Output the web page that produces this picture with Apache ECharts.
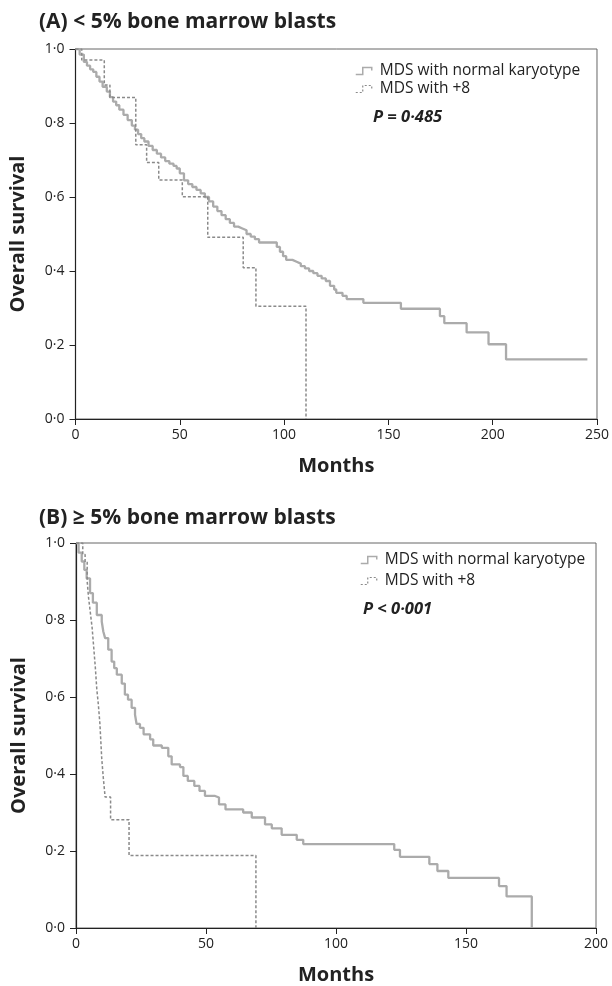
<!DOCTYPE html>
<html>
<head>
<meta charset="utf-8">
<script src="https://cdn.jsdelivr.net/npm/echarts@6/dist/echarts.min.js"></script>
<style>
html,body{margin:0;padding:0;background:#fff;}
#c{width:612px;height:986px;}
</style>
</head>
<body>
<div id="c"></div>
<script>
// ---- Data (Kaplan-Meier steps: [months, survival]) ----
const seriesNames = ['MDS with normal karyotype', 'MDS with +8'];

const panelA_normal = [
  [0,1.0],[2,0.985],[4,0.965],[5.5,0.955],[7,0.945],[8.5,0.938],[10,0.925],[11.5,0.912],
  [13,0.898],[15,0.885],[16.5,0.87],[18,0.858],[19.5,0.848],[21,0.836],[23,0.822],[25,0.808],
  [27,0.793],[28.5,0.782],[30,0.77],[31.5,0.759],[33,0.75],[35,0.738],[37,0.727],[39,0.717],
  [41,0.707],[43,0.697],[45,0.69],[47,0.684],[48.5,0.677],[50,0.664],[52,0.645],[54,0.635],
  [56,0.627],[58,0.619],[60,0.61],[62,0.6],[64,0.588],[66,0.574],[68,0.562],[70,0.551],
  [72,0.54],[74,0.53],[76,0.52],[78,0.515],[80,0.51],[82,0.5],[84,0.493],[86,0.486],
  [88,0.477],[96.5,0.465],[98,0.452],[99.5,0.44],[101,0.43],[104,0.425],[106,0.42],[108,0.413],
  [110,0.407],[112,0.4],[114,0.394],[116,0.387],[118,0.38],[120,0.373],[122,0.36],[124,0.35],
  [125,0.341],[128,0.333],[130,0.324],[138,0.314],[156,0.298],[174.7,0.278],[176.8,0.259],
  [187.5,0.234],[198,0.202],[206.4,0.161],[245.4,0.161]
];
const panelA_tri8 = [
  [0,1.0],[3,0.97],[13.8,0.903],[16.5,0.869],[28.9,0.741],[34.1,0.693],[39.9,0.646],
  [51.2,0.601],[63.4,0.491],[80.4,0.409],[86.5,0.305],[110.5,0.0]
];
const panelB_normal = [
  [0,1.0],[1,0.975],[2.2,0.952],[3.2,0.93],[4.1,0.908],[5.4,0.87],[6.5,0.845],[8,0.813],
  [9.9,0.796],[10.5,0.77],[11.2,0.753],[12.4,0.723],[13.7,0.692],[14.7,0.675],[15.7,0.658],
  [17.6,0.635],[18.8,0.606],[20,0.593],[21.4,0.572],[22.7,0.554],[23.3,0.53],[24.6,0.52],
  [26,0.503],[28.5,0.49],[29.7,0.474],[33,0.468],[35.5,0.446],[36.8,0.425],[40,0.418],
  [41.3,0.395],[43,0.382],[45.5,0.369],[47.5,0.356],[49.6,0.343],[53.5,0.339],[55,0.321],
  [57.5,0.308],[64.3,0.300],[67.6,0.287],[72.7,0.269],[75.3,0.259],[79.1,0.242],[84.9,0.229],
  [87.4,0.218],[122.4,0.203],[124.6,0.185],[135.9,0.166],[139,0.148],[143.2,0.130],
  [162.7,0.109],[165.6,0.082],[175.3,0.0]
];
const panelB_tri8 = [
  [0,1.0],[2.6,0.97],[3.5,0.95],[4.3,0.9],[4.8,0.86],[5.5,0.82],[6.2,0.78],[6.8,0.73],
  [7.4,0.68],[8,0.62],[8.6,0.58],[9.2,0.53],[9.9,0.44],[10.5,0.39],[11.2,0.34],[13.3,0.281],
  [20.4,0.188],[69.2,0.0]
];
const titles = ['(A) < 5% bone marrow blasts', '(B) \u2265 5% bone marrow blasts'];
const pValues = ['P = 0\u00b7485', 'P < 0\u00b7001'];
const xMaxA = 250, xMaxB = 200;

// ---- Chart ----
const FONT = 'Open Sans, Noto Sans, sans-serif';
const chart = echarts.init(document.getElementById('c'), null, {renderer:'canvas'});
const solidColor = '#ababab';
const dashColor = '#8a8a8a';
const fmtY = v => v.toFixed(1).replace('.', '\u00b7');

function xAxis(gi, max){
  return {
    type:'value', gridIndex:gi, min:0, max:max, interval:50,
    name:'Months', nameLocation:'middle', nameGap:37,
    nameTextStyle:{fontFamily:FONT, fontWeight:'bold', fontSize:20, color:'#222'},
    axisLine:{show:true, lineStyle:{color:'#222', width:1.2}},
    axisTick:{show:true, length:6, lineStyle:{color:'#222'}},
    axisLabel:{fontFamily:FONT, fontSize:14, color:'#222', margin:9},
    splitLine:{show:false}
  };
}
function yAxis(gi){
  return {
    type:'value', gridIndex:gi, min:0, max:1, interval:0.2,
    name:'Overall survival', nameLocation:'middle', nameGap:47,
    nameTextStyle:{fontFamily:FONT, fontWeight:'bold', fontSize:20, color:'#222'},
    axisLine:{show:true, lineStyle:{color:'#222', width:1.2}},
    axisTick:{show:true, length:6, lineStyle:{color:'#222'}},
    axisLabel:{fontFamily:FONT, fontSize:14, color:'#222', margin:11, formatter:fmtY},
    splitLine:{show:false}
  };
}
function km(name, data, gi, dashed){
  return {
    type:'line', name:name, xAxisIndex:gi, yAxisIndex:gi, data:data, step:'end',
    showSymbol:false, symbol:'none', animation:false,
    lineStyle:dashed ? {color:dashColor, width:1.5, type:[3,2]} : {color:solidColor, width:2.3},
    itemStyle:{color:dashed?dashColor:solidColor}
  };
}
const stepIcon = 'path://M0,9 L7,9 L7,2 L16,2 L16,5';
function legend(left, top, gap){
  return {
    orient:'vertical', left:left, top:top, itemGap:gap, itemWidth:16, itemHeight:8,
    textStyle:{fontFamily:FONT, fontSize:15.5, color:'#222', padding:[0,0,0,3]},
    selectedMode:false,
    data:[
      {name:seriesNames[0], icon:stepIcon, itemStyle:{color:'rgba(0,0,0,0)', borderColor:solidColor, borderWidth:1.5}},
      {name:seriesNames[1], icon:stepIcon, itemStyle:{color:'rgba(0,0,0,0)', borderColor:dashColor, borderWidth:1.2, borderType:[2,2]}}
    ]
  };
}

chart.setOption({
  animation:false,
  title:[
    {text:titles[0], left:34, top:7, textStyle:{fontFamily:FONT, fontWeight:'bold', fontSize:21, color:'#222'}},
    {text:titles[1], left:34, top:503, textStyle:{fontFamily:FONT, fontWeight:'bold', fontSize:21, color:'#222'}},
    {text:pValues[0], left:368, top:104, textStyle:{fontFamily:FONT, fontWeight:'bold', fontStyle:'italic', fontSize:16.5, color:'#222'}},
    {text:pValues[1], left:358, top:596, textStyle:{fontFamily:FONT, fontWeight:'bold', fontStyle:'italic', fontSize:16.5, color:'#222'}}
  ],
  legend:[legend(350, 58, 2), legend(355, 547, 5)],
  grid:[
    {left:75.5, top:49, width:521.5, height:370, show:true, borderColor:'#666', borderWidth:1, backgroundColor:'transparent'},
    {left:76, top:543, width:520, height:386, show:true, borderColor:'#666', borderWidth:1, backgroundColor:'transparent'}
  ],
  xAxis:[xAxis(0, xMaxA), xAxis(1, xMaxB)],
  yAxis:[yAxis(0), yAxis(1)],
  series:[
    km(seriesNames[0], panelA_normal, 0, false),
    km(seriesNames[1], panelA_tri8, 0, true),
    km(seriesNames[0], panelB_normal, 1, false),
    km(seriesNames[1], panelB_tri8, 1, true)
  ]
});
</script>
</body>
</html>
